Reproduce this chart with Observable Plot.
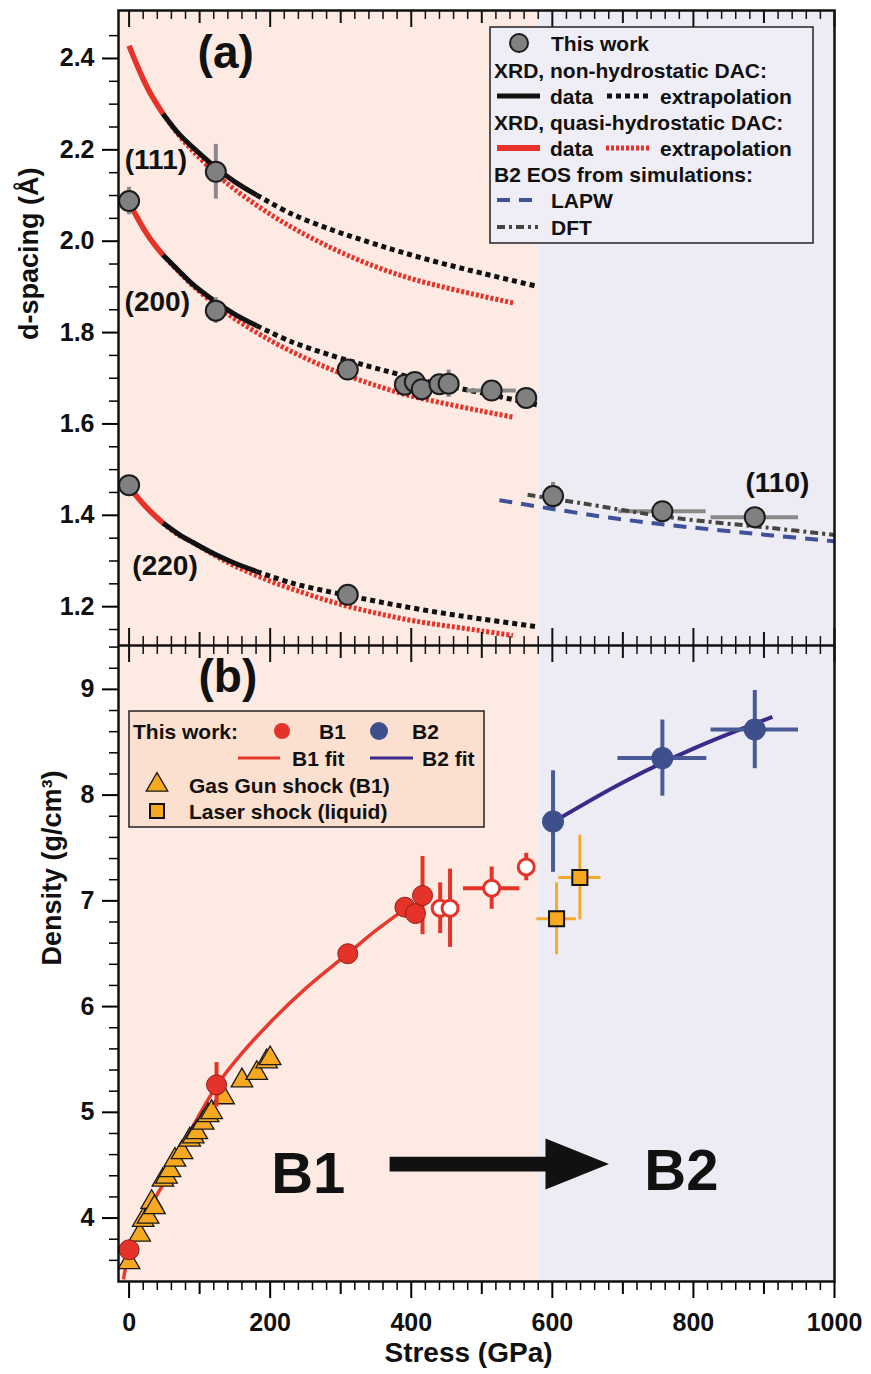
<!DOCTYPE html>
<html><head><meta charset="utf-8">
<script src="https://cdn.jsdelivr.net/npm/d3@7"></script>
<script src="https://cdn.jsdelivr.net/npm/@observablehq/plot@0.6"></script>
<style>
body{margin:0;background:#fff;}
#chart svg{display:block;}
svg text{font-family:"Liberation Sans",Arial,Helvetica,sans-serif;font-weight:bold;}
</style></head><body><div id="chart"></div>
<script>
// ---------- axes / ticks ----------
const xDomain = [-15, 1000];
const yDomainA = [1.115, 2.505];
const yDomainB = [3.40, 9.415];
const xMajor = [0, 200, 400, 600, 800, 1000];
const xMedium = [100, 300, 500, 700, 900];
const xMinor = d3.range(1, 50).map(i => i * 20).filter(v => v % 100 !== 0);
const yTicksA = [1.2, 1.4, 1.6, 1.8, 2.0, 2.2, 2.4];
const yMinorA = d3.range(23, 50).map(i => +(i * 0.05).toFixed(2)).filter(v => Math.abs(v * 5 - Math.round(v * 5)) > 1e-6);
const yTicksB = [4, 5, 6, 7, 8, 9];
const yMinorB = d3.range(18, 48).map(i => +(i * 0.2).toFixed(1)).filter(v => Math.abs(v - Math.round(v)) > 1e-6);
const phaseBoundary = 580;

// ---------- panel (a): d-spacing curves [stress GPa, d Å] ----------
const c111_red_data = [[0,2.428],[10,2.390],[20,2.355],[30,2.324],[48,2.279]];
const c111_red_extrap = [[48,2.279],[70,2.233],[90,2.198],[124,2.147],[150,2.113],[200,2.059],[250,2.014],[300,1.976],[350,1.944],[400,1.918],[450,1.898],[500,1.880],[547,1.864]];
const c111_black_data = [[48,2.279],[70,2.236],[90,2.206],[124,2.160],[150,2.130],[181,2.101]];
const c111_black_extrap = [[181,2.101],[230,2.060],[289,2.024],[340,1.998],[384,1.977],[440,1.953],[500,1.930],[579,1.901]];

const c200_red_data = [[0,2.085],[10,2.056],[20,2.029],[30,2.005],[48,1.970]];
const c200_red_extrap = [[48,1.970],[70,1.934],[90,1.903],[124,1.859],[150,1.830],[200,1.783],[250,1.744],[300,1.711],[350,1.684],[400,1.661],[450,1.644],[500,1.628],[544,1.615]];
const c200_black_data = [[48,1.970],[70,1.936],[90,1.906],[124,1.866],[150,1.840],[181,1.815]];
const c200_black_extrap = [[181,1.815],[230,1.780],[289,1.749],[340,1.726],[384,1.708],[440,1.687],[500,1.668],[578,1.642]];

const c220_red_data = [[0,1.462],[10,1.443],[20,1.425],[30,1.409],[48,1.383]];
const c220_red_extrap = [[48,1.383],[70,1.357],[90,1.341],[124,1.310],[150,1.289],[200,1.256],[250,1.229],[300,1.205],[350,1.186],[400,1.170],[450,1.158],[500,1.147],[544,1.137]];
const c220_black_data = [[48,1.383],[70,1.359],[90,1.341],[124,1.313],[150,1.295],[181,1.277]];
const c220_black_extrap = [[181,1.277],[230,1.252],[289,1.231],[340,1.215],[384,1.202],[440,1.187],[500,1.173],[578,1.156]];

const lapw = [[525,1.433],[596,1.415],[680,1.395],[770,1.378],[912,1.356],[1000,1.343]];
const dft = [[565,1.445],[639,1.427],[770,1.395],[912,1.372],[1000,1.357]];

// This work (gray points): stress, d, vertical err, horizontal err
const dP   = [0,     123,   0,     123,   310,   310,   391,   405,   415,   440,   453,   514,   563,   601,   756,   887];
const dD   = [2.088, 2.152, 1.466, 1.848, 1.719, 1.226, 1.686, 1.692, 1.676, 1.687, 1.688, 1.673, 1.657, 1.442, 1.409, 1.396];
const dErr = [0.03,  0.06,  0,     0.028, 0,     0,     0,     0,     0.025, 0,     0.03,  0,     0,     0.03,  0,     0];
const pErr = [0,     0,     0,     0,     0,     0,     0,     0,     0,     0,     0,     35,    0,     0,     62,    62];

const hklLabels = ["(111)", "(200)", "(220)", "(110)"];
const hklP = [38, 40, 51, 919];
const hklD = [2.178, 1.866, 1.290, 1.470];

// ---------- panel (b): density ----------
const b1P = [0, 124, 310, 391, 406, 416];
const b1Rho = [3.70, 5.26, 6.50, 6.94, 6.88, 7.05];
const b1RhoErr = [0.06, 0.21, 0.06, 0.05, 0.05, 0.37];
const b1PErr = [0, 0, 6, 10, 8, 0];

const b1OpenP = [441, 455, 514, 563];
const b1OpenRho = [6.93, 6.93, 7.12, 7.32];
const b1OpenRhoErr = [0.24, 0.37, 0.20, 0.13];
const b1OpenPErr = [0, 0, 40, 0];

const b2P = [601, 756, 887];
const b2Rho = [7.75, 8.35, 8.62];
const b2RhoErr = [0.48, 0.36, 0.37];
const b2PErr = [8, 63, 62];

const laserP = [606, 639];
const laserRho = [6.83, 7.22];
const laserRhoErr = [0.34, 0.40];
const laserPErr = [28, 30];

const gasGunP =   [0,    15,   20,   27,   32,   36,   48,   53,   58,   65,   75,   86,   91,   96,   105,  112,  117,  134,  160,  181,  195,  200];
const gasGunRho = [3.58, 3.84, 3.98, 4.01, 4.15, 4.10, 4.36, 4.39, 4.45, 4.55, 4.62, 4.74, 4.77, 4.81, 4.90, 4.97, 5.00, 5.14, 5.30, 5.37, 5.48, 5.51];

const b1Fit = [[-8,3.42],[0,3.68],[10,3.86],[20,4.00],[37,4.19],[50,4.34],[75,4.67],[100,4.98],[124,5.25],[150,5.48],[200,5.85],[250,6.17],[310,6.50],[350,6.72],[395,6.94]];
const b2Fit = [[610,7.78],[700,8.12],[800,8.44],[912,8.74]];

const phaseText = ["B1", "B2"];
const phaseTextP = [254, 783];
const phaseTextRho = [4.41, 4.44];
const arrowShaft = [[370, 4.435, 4.576], [592, 4.435, 4.576]];
const arrowHead = [[591, 4.265, 4.747], [681, 4.506, 4.506]];

// ---------- styles ----------
const PINK = "#fdebe3", LAV = "#edecf5";
const RED = "#e5332a", BLACK = "#111", GRAY = "#808080";
const BLUE = "#3e4f8c", PURPLE = "#3a2a8a", ORANGE = "#f6a821";

const W = 871, ML = 118, MR = 37;
const HA_total = 645, MTA = 10, MBA = 0, HA = HA_total - MTA - MBA;
const HB_total = 729, MTB = 0, MBB = 93, HB = HB_total - MTB - MBB;

const pts = dP.map((p, i) => ({P: p, d: dD[i], e: dErr[i], pe: pErr[i]}));
const mk = (P, v, ve, pe) => P.map((p, i) => ({P: p, v: v[i], e: ve ? ve[i] : 0, pe: pe ? pe[i] : 0}));
const b1 = mk(b1P, b1Rho, b1RhoErr, b1PErr);
const b1o = mk(b1OpenP, b1OpenRho, b1OpenRhoErr, b1OpenPErr);
const b2 = mk(b2P, b2Rho, b2RhoErr, b2PErr);
const laser = mk(laserP, laserRho, laserRhoErr, laserPErr);
const gas = mk(gasGunP, gasGunRho);

const L = (data, stroke, w, dash, curve = "catmull-rom") =>
  Plot.line(data, {x: d => d[0], y: d => d[1], stroke, strokeWidth: w, strokeDasharray: dash, strokeLinecap: "butt", curve});

const vErr = (data, yk, stroke, w) => Plot.ruleX(data.filter(d => d.e > 0), {x: "P", y1: d => d[yk] - d.e, y2: d => d[yk] + d.e, stroke, strokeWidth: w});
const hErr = (data, yk, stroke, w) => Plot.ruleY(data.filter(d => d.pe > 0), {y: yk, x1: d => d.P - d.pe, x2: d => d.P + d.pe, stroke, strokeWidth: w});

// ---------- Panel A ----------
const plotA = Plot.plot({
  width: W, height: HA_total, marginLeft: ML, marginRight: MR, marginTop: MTA, marginBottom: MBA,
  x: {domain: xDomain, axis: null},
  y: {domain: yDomainA, axis: null},
  marks: [
    Plot.rect([0], {x1: () => xDomain[0], x2: () => phaseBoundary, y1: () => yDomainA[0], y2: () => yDomainA[1], fill: PINK}),
    Plot.rect([0], {x1: () => phaseBoundary, x2: () => xDomain[1], y1: () => yDomainA[0], y2: () => yDomainA[1], fill: LAV}),
    // red (quasi-hydrostatic)
    L(c111_red_extrap, RED, 5, "3,2"), L(c200_red_extrap, RED, 5, "3,2"), L(c220_red_extrap, RED, 5, "3,2"),
    L(c111_red_data, RED, 5.5), L(c200_red_data, RED, 5.5), L(c220_red_data, RED, 5.5),
    // black (non-hydrostatic)
    L(c111_black_extrap, BLACK, 5, "5,4"), L(c200_black_extrap, BLACK, 5, "5,4"), L(c220_black_extrap, BLACK, 5, "5,4"),
    L(c111_black_data, BLACK, 5), L(c200_black_data, BLACK, 5), L(c220_black_data, BLACK, 5),
    // error bars
    vErr(pts, "d", "#8a8a8a", 4),
    hErr(pts, "d", "#8a8a8a", 4),
    // B2 EOS simulations
    L(lapw, "#3f5198", 4, "13,9"),
    L(dft, "#4a4440", 4, "8,4,3,4"),
    Plot.dot(pts, {x: "P", y: "d", r: 10, fill: GRAY, stroke: "#1c1c1c", strokeWidth: 2}),
    Plot.text(hklLabels, {x: (d, i) => hklP[i], y: (d, i) => hklD[i], text: d => d, fontSize: 28, fill: "#111"}),
    Plot.text(["(a)"], {x: () => 137, y: () => 2.411, text: d => d, fontSize: 46, fill: "#111"}),
    // ticks top (inward) and bottom (inward, up)
    Plot.tickX(xMajor, {x: d => d, insetBottom: HA - 17, stroke: BLACK, strokeWidth: 2}),
    Plot.tickX(xMedium, {x: d => d, insetBottom: HA - 13, stroke: BLACK, strokeWidth: 2}),
    Plot.tickX(xMinor, {x: d => d, insetBottom: HA - 9, stroke: BLACK, strokeWidth: 1.5}),
    Plot.tickX(xMajor, {x: d => d, insetTop: HA - 17, stroke: BLACK, strokeWidth: 2}),
    Plot.tickX(xMedium, {x: d => d, insetTop: HA - 13, stroke: BLACK, strokeWidth: 2}),
    Plot.tickX(xMinor, {x: d => d, insetTop: HA - 9, stroke: BLACK, strokeWidth: 1.5}),
    Plot.axisY({ticks: yTicksA, tickSize: 16, tickPadding: 8, fontSize: 25, tickFormat: d3.format(".1f"), label: null, strokeWidth: 2, fill: "#111"}),
    Plot.axisY({ticks: yMinorA, tickSize: 9, fill: "none", strokeWidth: 1.5, label: null}),
    Plot.text(["d-spacing (Å)"], {frameAnchor: "left", dx: -89, dy: 12, rotate: -90, text: d => d, fontSize: 27, fill: "#111"}),
    Plot.frame({stroke: BLACK, strokeWidth: 2.5})
  ]
});

// ---------- Panel B ----------
const plotB = Plot.plot({
  width: W, height: HB_total, marginLeft: ML, marginRight: MR, marginTop: MTB, marginBottom: MBB,
  x: {domain: xDomain},
  y: {domain: yDomainB, axis: null},
  marks: [
    Plot.rect([0], {x1: () => xDomain[0], x2: () => phaseBoundary, y1: () => yDomainB[0], y2: () => yDomainB[1], fill: PINK}),
    Plot.rect([0], {x1: () => phaseBoundary, x2: () => xDomain[1], y1: () => yDomainB[0], y2: () => yDomainB[1], fill: LAV}),
    // arrow + phase labels
    Plot.areaY(arrowShaft, {x: d => d[0], y1: d => d[1], y2: d => d[2], fill: "#111"}),
    Plot.areaY(arrowHead, {x: d => d[0], y1: d => d[1], y2: d => d[2], fill: "#111"}),
    Plot.text(phaseText, {x: (d, i) => phaseTextP[i], y: (d, i) => phaseTextRho[i], text: d => d, fontSize: 58, fill: "#111"}),
    // fits
    L(b1Fit, "#e8392d", 3.5),
    L(b2Fit, PURPLE, 4),
    // gas gun
    Plot.dot(gas, {x: "P", y: "v", symbol: "triangle", r: 8, fill: ORANGE, stroke: "#1a1a1a", strokeWidth: 1.3}),
    // laser
    vErr(laser, "v", "#f5aa2c", 3), hErr(laser, "v", "#f5aa2c", 3),
    Plot.dot(laser, {x: "P", y: "v", symbol: "square", r: 8.5, fill: ORANGE, stroke: "#111", strokeWidth: 2}),
    // B1 this work
    vErr(b1, "v", RED, 4), hErr(b1, "v", RED, 4),
    vErr(b1o, "v", RED, 4), hErr(b1o, "v", RED, 4),
    Plot.dot(b1, {x: "P", y: "v", r: 10, fill: RED, stroke: "#8e1d16", strokeWidth: 1}),
    Plot.dot(b1o, {x: "P", y: "v", r: 8, fill: "#fff", stroke: RED, strokeWidth: 3}),
    // B2 this work
    vErr(b2, "v", "#4a5a96", 4), hErr(b2, "v", "#4a5a96", 4),
    Plot.dot(b2, {x: "P", y: "v", r: 11, fill: BLUE}),
    Plot.text(["(b)"], {x: () => 140, y: () => 9.11, text: d => d, fontSize: 46, fill: "#111"}),
    // ticks at top (inward)
    Plot.tickX(xMajor, {x: d => d, insetBottom: HB - 17, stroke: BLACK, strokeWidth: 2}),
    Plot.tickX(xMedium, {x: d => d, insetBottom: HB - 13, stroke: BLACK, strokeWidth: 2}),
    Plot.tickX(xMinor, {x: d => d, insetBottom: HB - 9, stroke: BLACK, strokeWidth: 1.5}),
    Plot.axisX({ticks: xMajor, tickSize: 17, tickPadding: 15, fontSize: 25, tickFormat: d => String(d), label: null, strokeWidth: 2, fill: "#111"}),
    Plot.axisX({ticks: xMedium, tickSize: 13, fill: "none", strokeWidth: 2, label: null}),
    Plot.axisX({ticks: xMinor, tickSize: 9, fill: "none", strokeWidth: 1.5, label: null}),
    Plot.axisY({ticks: yTicksB, tickSize: 16, tickPadding: 8, fontSize: 25, tickFormat: d3.format("d"), label: null, strokeWidth: 2, fill: "#111"}),
    Plot.axisY({ticks: yMinorB, tickSize: 9, fill: "none", strokeWidth: 1.5, label: null}),
    Plot.text(["Density (g/cm³)"], {frameAnchor: "left", dx: -66, dy: 2, rotate: -90, text: d => d, fontSize: 27, fill: "#111"}),
    Plot.text(["Stress (GPa)"], {frameAnchor: "bottom", dx: -8, dy: 80, text: d => d, fontSize: 28, fill: "#111"}),
    Plot.frame({stroke: BLACK, strokeWidth: 2.5})
  ]
});

// ---------- legends (drawn with d3 into the Plot SVGs) ----------
function legendA(svg) {
  const g = d3.select(svg).append("g").attr("font-size", 21).attr("fill", "#111").attr("text-anchor", "start");
  g.append("rect").attr("x", 490).attr("y", 27).attr("width", 323).attr("height", 216)
    .attr("fill", "#efeef6").attr("stroke", "#222").attr("stroke-width", 1.5);
  const txt = (x, y, s) => g.append("text").attr("x", x).attr("y", y).attr("dy", "0.36em").text(s);
  const seg = (x1, x2, y, stroke, w, dash) => g.append("line").attr("x1", x1).attr("x2", x2).attr("y1", y).attr("y2", y)
    .attr("stroke", stroke).attr("stroke-width", w).attr("stroke-dasharray", dash || null);
  g.append("circle").attr("cx", 519).attr("cy", 43).attr("r", 9).attr("fill", GRAY).attr("stroke", "#1c1c1c").attr("stroke-width", 2);
  txt(551, 43, "This work");
  txt(494, 70, "XRD, non-hydrostatic DAC:");
  seg(497, 540, 96, BLACK, 5); txt(550, 96, "data"); seg(607, 650, 96, BLACK, 5, "5,4"); txt(660, 96, "extrapolation");
  txt(494, 122, "XRD, quasi-hydrostatic DAC:");
  seg(497, 540, 148, RED, 6); txt(550, 148, "data"); seg(606, 650, 148, RED, 5, "3,2"); txt(660, 148, "extrapolation");
  txt(494, 174, "B2 EOS from simulations:");
  seg(497, 538, 200, "#3f5198", 4, "13,9"); txt(551, 200, "LAPW");
  seg(497, 538, 227, "#4a4440", 4, "8,4,3,4"); txt(551, 227, "DFT");
}
function legendB(svg) {
  const off = 645;
  const g = d3.select(svg).append("g").attr("font-size", 21).attr("fill", "#111").attr("text-anchor", "start");
  g.append("rect").attr("x", 129).attr("y", 711 - off).attr("width", 355).attr("height", 116)
    .attr("fill", "#fbdfcf").attr("stroke", "#222").attr("stroke-width", 1.5);
  const txt = (x, y, s) => g.append("text").attr("x", x).attr("y", y - off).attr("dy", "0.36em").text(s);
  const seg = (x1, x2, y, stroke, w) => g.append("line").attr("x1", x1).attr("x2", x2).attr("y1", y - off).attr("y2", y - off)
    .attr("stroke", stroke).attr("stroke-width", w);
  txt(133, 731, "This work:");
  g.append("circle").attr("cx", 282).attr("cy", 731 - off).attr("r", 8).attr("fill", RED);
  txt(319, 731, "B1");
  g.append("circle").attr("cx", 379).attr("cy", 731 - off).attr("r", 9).attr("fill", BLUE);
  txt(412, 731, "B2");
  seg(238, 280, 758, "#e8392d", 3); txt(292, 758, "B1 fit");
  seg(370, 413, 758, PURPLE, 3); txt(422, 758, "B2 fit");
  g.append("path").attr("transform", `translate(157,${785 - off})`).attr("d", d3.symbol(d3.symbolTriangle, Math.PI * 64)())
    .attr("fill", ORANGE).attr("stroke", "#1a1a1a").attr("stroke-width", 1.3);
  txt(189, 785, "Gas Gun shock (B1)");
  g.append("rect").attr("x", 150).attr("y", 804 - off).attr("width", 14).attr("height", 14)
    .attr("fill", ORANGE).attr("stroke", "#111").attr("stroke-width", 2);
  txt(189, 811, "Laser shock (liquid)");
}
legendA(plotA);
legendB(plotB);
document.getElementById("chart").append(plotA, plotB);
</script></body></html>
